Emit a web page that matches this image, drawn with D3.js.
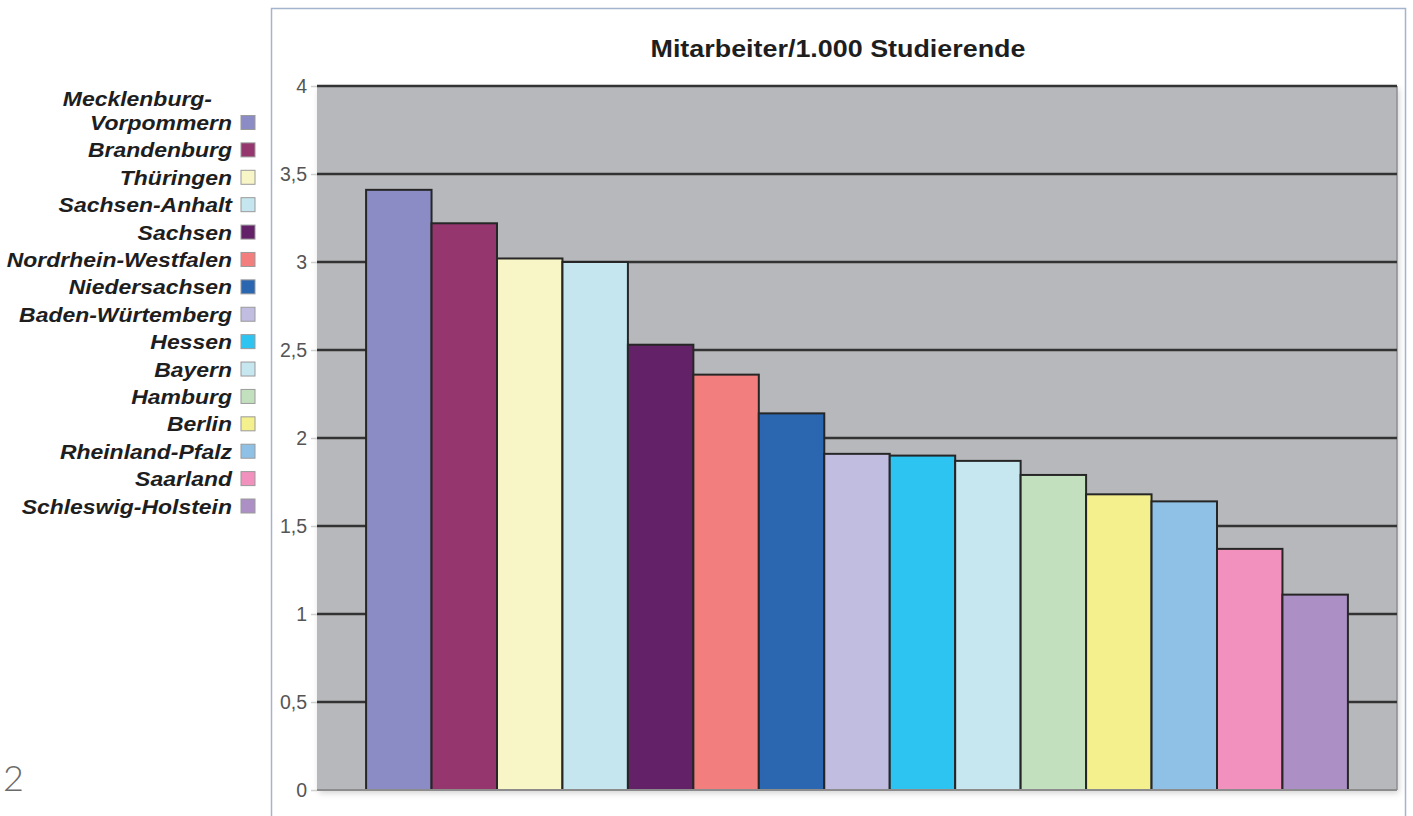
<!DOCTYPE html>
<html>
<head>
<meta charset="utf-8">
<script src="https://cdn.jsdelivr.net/npm/d3@7"></script>
<style>
  html, body { margin: 0; padding: 0; background: #ffffff; }
  svg { display: block; }
</style>
</head>
<body>
<svg id="chart" width="1413" height="816"></svg>
<script>
// Bundesländer, sortiert nach Mitarbeitern je 1.000 Studierende
const laender = [
  "Mecklenburg-Vorpommern", "Brandenburg", "Thüringen", "Sachsen-Anhalt",
  "Sachsen", "Nordrhein-Westfalen", "Niedersachsen", "Baden-Würtemberg",
  "Hessen", "Bayern", "Hamburg", "Berlin", "Rheinland-Pfalz", "Saarland",
  "Schleswig-Holstein"
];
const werte = [3.41, 3.22, 3.02, 3.00, 2.53, 2.36, 2.14, 1.91, 1.90, 1.87, 1.79, 1.68, 1.64, 1.37, 1.11];
const farben = [
  "#8b8bc6", "#95366e", "#f8f5c6", "#c5e6ef", "#632167", "#f27e7e", "#2a67b0",
  "#c0bde0", "#2ec4f2", "#c6e6f0", "#c2e0bd", "#f5f08e", "#8fc0e6", "#f291bd", "#ab8fc5"
];
const yTicks = [0, 0.5, 1, 1.5, 2, 2.5, 3, 3.5, 4];
const titel = "Mitarbeiter/1.000 Studierende";
const seitenzahl = "2";

const svg = d3.select("#chart");
const fontSans = "'Liberation Sans', Arial, Helvetica, sans-serif";

const plot = { left: 317, right: 1397, top: 86, bottom: 790 };

// outer frame of the chart object
svg.append("rect")
  .attr("x", 271.5).attr("y", 8.5)
  .attr("width", 1405 - 271).attr("height", 830)
  .attr("fill", "#ffffff")
  .attr("stroke", "#a3b5cc").attr("stroke-width", 1.5);

// soft shadow under the plot area
const defs = svg.append("defs");
const f = defs.append("filter").attr("id", "shadow")
  .attr("x", "-5%").attr("y", "-5%").attr("width", "110%").attr("height", "110%");
f.append("feDropShadow").attr("dx", 2).attr("dy", 3).attr("stdDeviation", 3)
  .attr("flood-color", "#000").attr("flood-opacity", 0.18);

const x = d3.scaleBand()
  .domain(laender)
  .range([plot.left, plot.right])
  .paddingInner(0)
  .paddingOuter(0.75);

const y = d3.scaleLinear()
  .domain([0, 4])
  .range([plot.bottom, plot.top]);

const color = d3.scaleOrdinal().domain(laender).range(farben);

// plot background
svg.append("rect")
  .attr("x", plot.left).attr("y", plot.top)
  .attr("width", plot.right - plot.left).attr("height", plot.bottom - plot.top)
  .attr("fill", "#b7b8bb")
  .attr("filter", "url(#shadow)");

// right edge of the plot area
svg.append("line")
  .attr("x1", plot.right).attr("x2", plot.right)
  .attr("y1", plot.top).attr("y2", plot.bottom)
  .attr("stroke", "#8e8f92").attr("stroke-width", 1.5);

// horizontal gridlines
svg.append("g")
  .selectAll("line")
  .data(yTicks.filter(d => d > 0))
  .join("line")
  .attr("x1", plot.left).attr("x2", plot.right)
  .attr("y1", d => y(d)).attr("y2", d => y(d))
  .attr("stroke", "#333333").attr("stroke-width", 2.5);

// y axis
const fmt = d => d3.format("")(d).replace(".", ",");
const yAxis = svg.append("g")
  .attr("transform", `translate(${plot.left},0)`)
  .call(d3.axisLeft(y).tickValues(yTicks).tickFormat(fmt).tickSize(6).tickPadding(4));
yAxis.select(".domain").remove();
yAxis.selectAll(".tick line").attr("stroke", "#cfcfcf").attr("stroke-width", 1.5);
yAxis.selectAll(".tick text")
  .attr("fill", "#555555")
  .style("font-family", fontSans)
  .style("font-size", "19.5px");

// bars
svg.append("g")
  .selectAll("rect")
  .data(laender.map((name, i) => ({ name, wert: werte[i] })))
  .join("rect")
  .attr("x", d => x(d.name))
  .attr("y", d => y(d.wert))
  .attr("width", x.bandwidth())
  .attr("height", d => y(0) - y(d.wert))
  .attr("fill", d => color(d.name))
  .attr("stroke", "#262626")
  .attr("stroke-width", 2);

// baseline
svg.append("line")
  .attr("x1", plot.left).attr("x2", plot.right)
  .attr("y1", y(0)).attr("y2", y(0))
  .attr("stroke", "#8c8c8c").attr("stroke-width", 2);

// title
svg.append("text")
  .attr("x", 838).attr("y", 57)
  .attr("text-anchor", "middle")
  .attr("textLength", 375).attr("lengthAdjust", "spacingAndGlyphs")
  .style("font-family", fontSans)
  .style("font-weight", "bold")
  .style("font-size", "23px")
  .attr("fill", "#1e1e1e")
  .text(titel);

// legend
const legendY = d3.scalePoint().domain(laender).range([122.5, 506]);
const legend = svg.append("g");
const rows = legend.selectAll("g")
  .data(laender)
  .join("g")
  .attr("transform", d => `translate(0,${legendY(d)})`);

rows.append("rect")
  .attr("x", 241).attr("y", -7)
  .attr("width", 14).attr("height", 14)
  .attr("fill", d => color(d))
  .attr("stroke", "#9a9a9a").attr("stroke-width", 1);

rows.each(function (d) {
  // the long name wraps after its hyphen; the first line ends a little further left
  const parts = d === "Mecklenburg-Vorpommern"
    ? [{ t: "Mecklenburg-", x: 212, dy: -24 }, { t: "Vorpommern", x: 232, dy: 0 }]
    : [{ t: d, x: 232, dy: 0 }];
  const g = d3.select(this);
  parts.forEach(p => {
    g.append("text")
      .attr("transform", `translate(${p.x},${7.5 + p.dy}) scale(1.12,1)`)
      .attr("text-anchor", "end")
      .style("font-family", fontSans)
      .style("font-weight", "bold")
      .style("font-style", "italic")
      .style("font-size", "20.5px")
      .attr("fill", "#1e1e1e")
      .text(p.t);
  });
});

// page number
svg.append("text")
  .attr("x", 3).attr("y", 791)
  .style("font-family", "Lato, 'Open Sans', sans-serif")
  .style("font-weight", 300)
  .style("font-size", "36px")
  .attr("fill", "#6a6a6a")
  .text(seitenzahl);
</script>
</body>
</html>
